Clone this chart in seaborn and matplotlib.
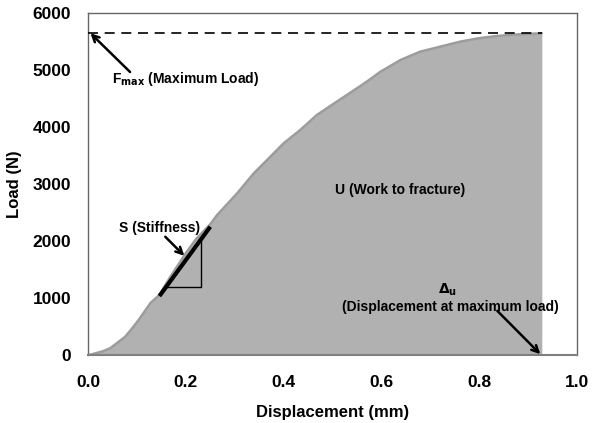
import matplotlib
matplotlib.use("Agg")
import matplotlib.pyplot as plt
import seaborn as sns
import pandas as pd

displacement = [0.0, 0.015, 0.03, 0.045, 0.06, 0.076, 0.09, 0.1035, 0.128, 0.146,
                0.17, 0.20, 0.22, 0.25, 0.264, 0.305, 0.339, 0.373, 0.400, 0.434,
                0.468, 0.50, 0.537, 0.570, 0.598, 0.639, 0.679, 0.720, 0.761, 0.798,
                0.836, 0.87, 0.905, 0.928]
load = [0, 35, 70, 123, 220, 326, 470, 620, 920, 1060,
        1400, 1790, 2030, 2300, 2461, 2842, 3193, 3485, 3719, 3953,
        4216, 4400, 4610, 4800, 4975, 5180, 5326, 5414, 5502, 5561,
        5602, 5625, 5640, 5650]
f_max = 5650
stiff_x = [0.146, 0.25]
stiff_y = [1040, 2256]
tri_x = [0.160, 0.231, 0.231]
tri_y = [1204, 1204, 2034]
x_ticks = [0.0, 0.2, 0.4, 0.6, 0.8, 1.0]
y_ticks = [0, 1000, 2000, 3000, 4000, 5000, 6000]

sns.set_style("white")
plt.rcParams['font.family'] = ['Liberation Sans', 'DejaVu Sans']
plt.rcParams['font.weight'] = 'bold'
plt.rcParams['text.color'] = 'black'
plt.rcParams['axes.labelcolor'] = 'black'
plt.rcParams['xtick.color'] = 'black'
plt.rcParams['ytick.color'] = 'black'

df = pd.DataFrame({"Displacement": displacement, "Load": load})

fig = plt.figure(figsize=(6, 4.23), dpi=100)
ax = fig.add_axes([0.1467, 0.16, 0.815, 0.8086])

ax.fill_between(df["Displacement"], 0, df["Load"], color="#b1b1b1", linewidth=0, zorder=1)
sns.lineplot(data=df, x="Displacement", y="Load", ax=ax, color="#9c9c9c", linewidth=1.8, zorder=2)

ax.plot([0, displacement[-1]], [f_max, f_max], color="black", lw=1.2, dashes=(6, 4), zorder=3)
ax.plot(stiff_x, stiff_y, color="black", lw=3, solid_capstyle="butt", zorder=4)
ax.plot(tri_x, tri_y, color="black", lw=1, zorder=4)

arrow = dict(arrowstyle="->", color="black", lw=1.8, mutation_scale=12, shrinkA=0, shrinkB=0)
ax.annotate("", xy=(0.005, 5650), xytext=(0.086, 4970), arrowprops=arrow, zorder=5)
ax.text(0.049, 4850, r"F$_{\mathbf{max}}$ (Maximum Load)", fontsize=10, fontweight="bold", va="center", ha="left")
ax.annotate("", xy=(0.197, 1745), xytext=(0.158, 2080), arrowprops=arrow, zorder=5)
ax.text(0.146, 2230, "S (Stiffness)", fontsize=10, fontweight="bold", ha="center", va="center")
ax.text(0.638, 2900, "U (Work to fracture)", fontsize=10, fontweight="bold", ha="center", va="center")
ax.text(0.735, 1150, r"$\Delta_{\mathbf{u}}$", fontsize=10, ha="center", va="center")
ax.text(0.741, 850, "(Displacement at maximum load)", fontsize=10, fontweight="bold", ha="center", va="center")
ax.annotate("", xy=(0.925, 20), xytext=(0.837, 780), arrowprops=arrow, zorder=5)

ax.set_xlim(0, 1.0)
ax.set_ylim(0, 6000)
ax.set_xticks(x_ticks)
ax.set_xticklabels([f"{v:.1f}" for v in x_ticks])
ax.set_yticks(y_ticks)
ax.set_yticklabels([str(v) for v in y_ticks])
ax.tick_params(axis="both", labelsize=12.5, direction="out", length=4, width=1, color="#555555", pad=8)
ax.tick_params(axis="x", pad=10)
for lab in ax.get_xticklabels() + ax.get_yticklabels():
    lab.set_fontweight("bold")
ax.set_xlabel("Displacement (mm)", fontsize=12, fontweight="bold", labelpad=11)
ax.set_ylabel("Load (N)", fontsize=12, fontweight="bold", labelpad=8)
for s in ax.spines.values():
    s.set_color("#666666")
    s.set_linewidth(1)
    s.set_visible(True)
ax.spines["bottom"].set_color("#808080")
ax.spines["bottom"].set_linewidth(1.5)

fig.savefig("out.png", dpi=100)
